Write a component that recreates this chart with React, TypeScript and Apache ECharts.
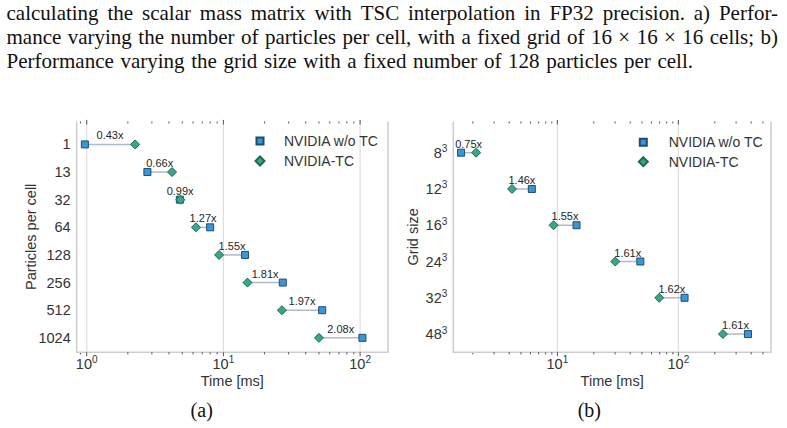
import React, { useEffect, useRef } from 'react';
import * as echarts from 'echarts';

const SANS = '"Liberation Sans", Arial, sans-serif';
const SERIF_FAMILY = '"Liberation Serif"';

// (a) particles per cell, fixed 16 x 16 x 16 grid — times in ms
const PPC_CATEGORIES = ['1', '13', '32', '64', '128', '256', '512', '1024'];
const PPC_NO_TC = [0.97, 2.78, 4.8, 8.0, 14.4, 27.2, 52.8, 104];
const PPC_TC = [2.26, 4.21, 4.85, 6.3, 9.3, 15.0, 26.8, 50.0];

// (b) grid edge length (cells per side), 128 particles per cell — times in ms
const GRID_EDGE = ['8', '12', '16', '24', '32', '48'];
const GRID_NO_TC = [1.6, 6.15, 14.4, 48.5, 112.5, 376];
const GRID_TC = [2.13, 4.22, 9.3, 30.1, 69.5, 233.5];

const SERIES_NO_TC = 'NVIDIA w/o TC';
const SERIES_TC = 'NVIDIA-TC';

const CAPTION_LINES = [
  'calculating the scalar mass matrix with TSC interpolation in FP32 precision. a) Perfor-',
  'mance varying the number of particles per cell, with a fixed grid of 16 × 16 × 16 cells; b)',
  'Performance varying the grid size with a fixed number of 128 particles per cell.',
];

const COLOR_NO_TC = '#3b97d3';
const EDGE_NO_TC = '#1d4d73';
const COLOR_TC = '#3aa689';
const EDGE_TC = '#1e6a54';
const LINK = '#aebbcc';
const SPINE = '#cdcdcd';
const GRIDLINE = '#dedede';
const TICK = '#555555';
const TEXT = '#333333';
const FS = 14.5;

// decade + 2..9 sub-decade tick positions inside an axis range
function logTicks(lo: number, hi: number): number[][] {
  const out: number[][] = [];
  for (let e = -1; e <= 3; e++) {
    for (let m = 1; m <= 9; m++) {
      const v = m * Math.pow(10, e);
      if (v >= lo && v <= hi) out.push([v, m === 1 ? 1 : 0]);
    }
  }
  return out;
}

// frame: left/right/bottom spines, decade gridlines, ticks along bottom and top
function frameSeries(idx: number, lo: number, hi: number) {
  return {
    type: 'custom',
    xAxisIndex: idx,
    yAxisIndex: idx,
    silent: true,
    z: 1,
    data: logTicks(lo, hi),
    encode: { x: 0, y: 1 },
    renderItem: (params: any, api: any) => {
      const cs = params.coordSys;
      const top = cs.y;
      const bottom = cs.y + cs.height;
      const x = api.coord([api.value(0), 0])[0];
      const major = api.value(1) === 1;
      const children: any[] = [];
      if (major) {
        children.push({ type: 'line', shape: { x1: x, y1: top - 2, x2: x, y2: bottom }, style: { stroke: GRIDLINE, lineWidth: 1.2 } });
        children.push({ type: 'line', shape: { x1: x, y1: bottom, x2: x, y2: bottom + 4 }, style: { stroke: TICK, lineWidth: 1 } });
        children.push({ type: 'line', shape: { x1: x, y1: top - 1.5, x2: x, y2: top + 3 }, style: { stroke: TICK, lineWidth: 1 } });
      } else {
        children.push({ type: 'line', shape: { x1: x, y1: bottom, x2: x, y2: bottom + 2.2 }, style: { stroke: TICK, lineWidth: 1 } });
        children.push({ type: 'line', shape: { x1: x, y1: top, x2: x, y2: top + 2 }, style: { stroke: TICK, lineWidth: 1 } });
      }
      if (params.dataIndex === 0) {
        const l = cs.x;
        const r = cs.x + cs.width;
        children.push({ type: 'polyline', shape: { points: [[l, top], [l, bottom], [r, bottom], [r, top]] }, style: { stroke: SPINE, lineWidth: 1.5, fill: 'none' } });
      }
      return { type: 'group', children };
    },
  };
}

// connector between the two timings of a row plus the speed-up label
function speedupSeries(idx: number, noTc: number[], tc: number[]) {
  return {
    type: 'custom',
    xAxisIndex: idx,
    yAxisIndex: idx,
    silent: true,
    z: 2,
    data: noTc.map((v, i) => [v, tc[i], i]),
    encode: { x: [0, 1], y: 2 },
    renderItem: (_params: any, api: any) => {
      const row = api.value(2);
      const a = api.coord([api.value(0), row]);
      const b = api.coord([api.value(1), row]);
      const ratio = api.value(0) / api.value(1);
      return {
        type: 'group',
        children: [
          { type: 'line', shape: { x1: a[0], y1: a[1], x2: b[0], y2: b[1] }, style: { stroke: LINK, lineWidth: 1.5 } },
          {
            type: 'text',
            style: {
              text: ratio.toFixed(2) + 'x',
              x: (a[0] + b[0]) / 2,
              y: a[1] - 9,
              align: 'center',
              verticalAlign: 'middle',
              fontSize: 11,
              fontFamily: SANS,
              fill: '#262626',
            },
          },
        ],
      };
    },
  };
}

function pointSeries(idx: number, name: string, values: number[]) {
  const tc = name === SERIES_TC;
  return {
    type: 'scatter',
    name,
    xAxisIndex: idx,
    yAxisIndex: idx,
    z: tc ? 4 : 3,
    silent: true,
    symbol: tc ? 'diamond' : 'rect',
    symbolSize: tc ? 9 : 7,
    itemStyle: {
      color: tc ? COLOR_TC : COLOR_NO_TC,
      borderColor: tc ? EDGE_TC : EDGE_NO_TC,
      borderWidth: 1,
      opacity: 1,
    },
    data: values.map((v, i) => [v, i]),
  };
}

const supRich = {
  b: { fontSize: FS, fontFamily: SANS, color: TEXT, lineHeight: 18 },
  s: { fontSize: 10, fontFamily: SANS, color: TEXT, lineHeight: 10, verticalAlign: 'top' },
};

function xAxis(idx: number, lo: number, hi: number) {
  return {
    type: 'log',
    logBase: 10,
    gridIndex: idx,
    min: lo,
    max: hi,
    name: 'Time [ms]',
    nameLocation: 'middle',
    nameGap: 21,
    nameMoveOverlap: false,
    nameTextStyle: { fontSize: FS, fontFamily: SANS, color: TEXT },
    axisLine: { show: false },
    axisTick: { show: false },
    splitLine: { show: false },
    minorTick: { show: false },
    minorSplitLine: { show: false },
    axisLabel: {
      margin: 2.5,
      hideOverlap: false,
      formatter: (v: number) => {
        const e = Math.log10(v);
        const r = Math.round(e);
        return Math.abs(e - r) < 1e-6 ? `{b|10}{s|${r}}` : '';
      },
      rich: supRich,
    },
  };
}

function yAxis(idx: number, name: string, labels: string[], min: number, max: number, nameGap: number, superscript: boolean) {
  return {
    type: 'value',
    gridIndex: idx,
    inverse: true,
    min,
    max,
    name,
    nameLocation: 'middle',
    nameGap,
    nameMoveOverlap: false,
    nameTextStyle: { fontSize: FS, fontFamily: SANS, color: TEXT },
    axisLine: { show: false },
    axisTick: { show: false },
    splitLine: { show: false },
    axisLabel: {
      customValues: labels.map((_, i) => i),
      margin: 6,
      fontSize: FS,
      fontFamily: SANS,
      color: TEXT,
      formatter: (v: number) => {
        const t = labels[Math.round(v)];
        if (t === undefined) return '';
        return superscript ? `{b|${t}}{s|3}` : t;
      },
      rich: supRich,
    },
  };
}

// one legend entry: icon centred at (cx, cy), text starting at textX
function legendEntry(name: string, size: number, cx: number, cy: number, textX: number) {
  const left = cx - size / 2;
  return {
    orient: 'vertical',
    left,
    top: cy - 8,
    padding: 0,
    itemWidth: size,
    itemHeight: size,
    selectedMode: false,
    data: [name],
    textStyle: {
      fontSize: 14,
      fontFamily: SANS,
      color: TEXT,
      lineHeight: 16,
      padding: [0, 0, 0, textX - (left + size + 5)],
    },
  };
}

// caption words laid out across a fixed line width
function captionElements(): any[] {
  const fontSize = 21;
  const font = `${fontSize}px ${SERIF_FAMILY}`;
  const ctx = document.createElement('canvas').getContext('2d') as CanvasRenderingContext2D;
  ctx.font = font;
  const left = 6.5;
  const rights = [778, 778, 693];
  const centers = [13.4, 37.4, 61.2];
  const els: any[] = [];
  CAPTION_LINES.forEach((line, li) => {
    const words = line.split(/\s+/);
    const widths = words.map((w) => ctx.measureText(w).width);
    const total = widths.reduce((s, w) => s + w, 0);
    const gap = (rights[li] - left - total) / (words.length - 1);
    let x = left;
    words.forEach((w, wi) => {
      els.push({
        type: 'text',
        silent: true,
        style: { text: w, x, y: centers[li], font, fill: '#111111', align: 'left', verticalAlign: 'middle' },
      });
      x += widths[wi] + gap;
    });
  });
  els.push({ type: 'text', silent: true, style: { text: '(a)', x: 201.7, y: 410, font: `20px ${SERIF_FAMILY}`, fill: '#111111', align: 'center', verticalAlign: 'middle' } });
  els.push({ type: 'text', silent: true, style: { text: '(b)', x: 589.3, y: 410, font: `20px ${SERIF_FAMILY}`, fill: '#111111', align: 'center', verticalAlign: 'middle' } });
  return els;
}

export default function App() {
  const ref = useRef<HTMLDivElement>(null);

  useEffect(() => {
    if (!ref.current) return;
    const chart = echarts.init(ref.current, undefined, { renderer: 'svg' });
    const xa: [number, number] = [0.845, 160];
    const xb: [number, number] = [1.38, 583];
    chart.setOption({
      animation: false,
      backgroundColor: '#ffffff',
      textStyle: { fontFamily: SANS },
      grid: [
        { left: 76.7, top: 121.5, width: 311.3, height: 230.7 },
        { left: 453.3, top: 121.5, width: 317.7, height: 230.7 },
      ],
      xAxis: [xAxis(0, xa[0], xa[1]), xAxis(1, xb[0], xb[1])],
      yAxis: [
        yAxis(0, 'Particles per cell', PPC_CATEGORIES, -0.83, 7.52, 38.5, false),
        yAxis(1, 'Grid size', GRID_EDGE, -0.86, 5.5, 33, true),
      ],
      legend: [
        legendEntry(SERIES_NO_TC, 7, 259, 141, 283),
        legendEntry(SERIES_TC, 9, 259, 161, 283),
        legendEntry(SERIES_NO_TC, 7, 642.3, 142.3, 667.7),
        legendEntry(SERIES_TC, 9, 642.3, 161.7, 667.7),
      ],
      graphic: captionElements(),
      series: [
        frameSeries(0, xa[0], xa[1]),
        frameSeries(1, xb[0], xb[1]),
        speedupSeries(0, PPC_NO_TC, PPC_TC),
        speedupSeries(1, GRID_NO_TC, GRID_TC),
        pointSeries(0, SERIES_NO_TC, PPC_NO_TC),
        pointSeries(0, SERIES_TC, PPC_TC),
        pointSeries(1, SERIES_NO_TC, GRID_NO_TC),
        pointSeries(1, SERIES_TC, GRID_TC),
      ],
    });
    return () => chart.dispose();
  }, []);

  return <div ref={ref} style={{ position: 'absolute', left: 0, top: 0, width: 787, height: 428 }} />;
}
